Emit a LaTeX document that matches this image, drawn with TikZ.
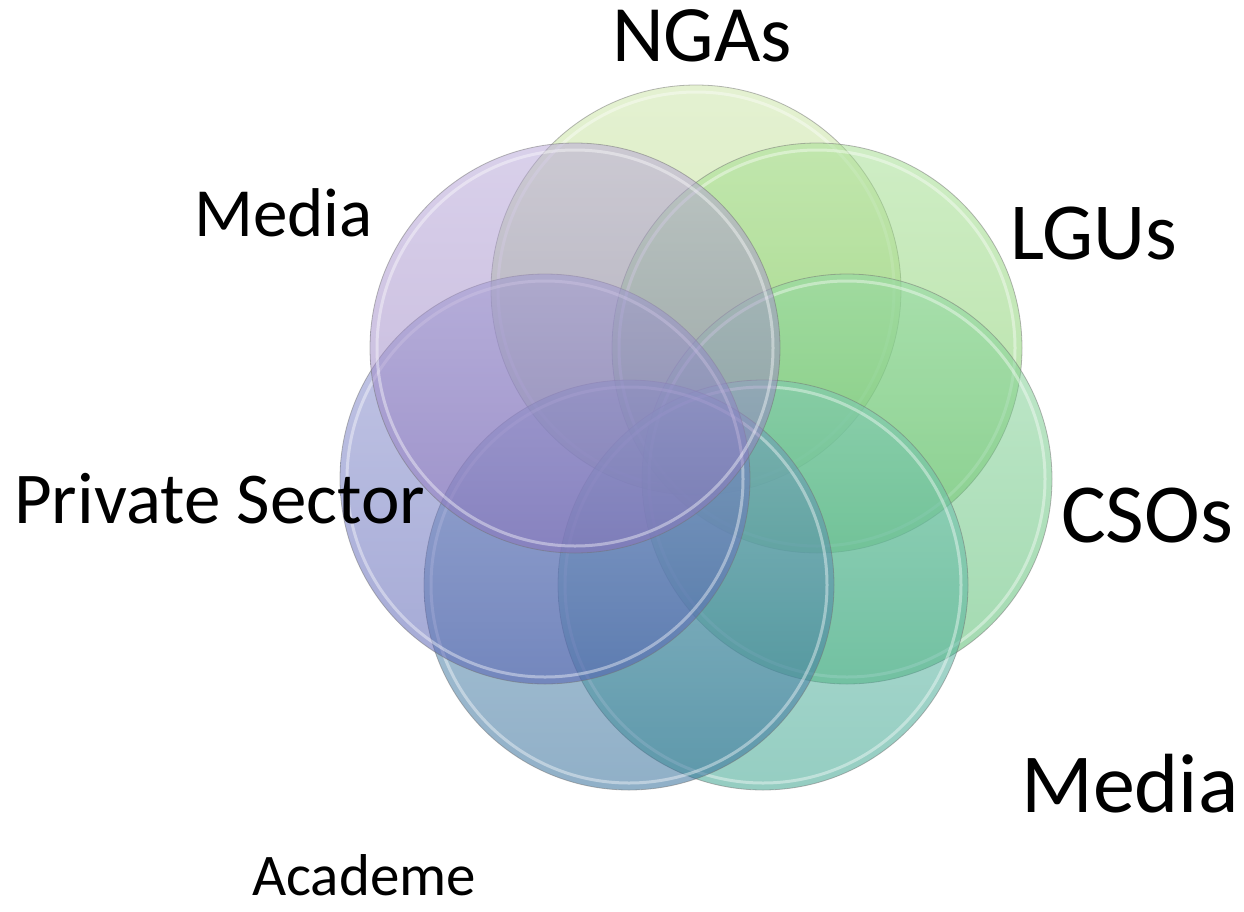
\documentclass[tikz,border=0pt]{standalone}
\usepackage{fontspec}
\setmainfont{Carlito}
\definecolor{cN}{RGB}{177,217,121}
\definecolor{cL}{RGB}{115,205,85}
\definecolor{cC}{RGB}{81,193,109}
\definecolor{cBR}{RGB}{55,169,145}
\definecolor{cBL}{RGB}{45,109,157}
\definecolor{cPS}{RGB}{85,95,185}
\definecolor{cM}{RGB}{145,119,195}
\begin{document}
\begin{tikzpicture}[x=1pt,y=-1pt,
  circ/.style={circle, minimum size=410pt, inner sep=0pt, draw=black!55, line width=0.8pt,
    draw opacity=0.5, fill opacity=0.52, top color=#1!65!white, bottom color=#1!95!black},
  rim/.style={white, line width=3pt, opacity=0.4},
  lab/.style={anchor=base west, inner sep=0pt, text=black}]
\useasboundingbox (0,0) rectangle (1244,911);
\fill[white] (0,0) rectangle (1244,911);
\node[circ=cN] (ngas) at (696,290) {};
\draw[rim] (ngas.center) circle (198);
\node[circ=cL] (lgus) at (817,348) {};
\draw[rim] (lgus.center) circle (198);
\node[circ=cC] (csos) at (847,479) {};
\draw[rim] (csos.center) circle (198);
\node[circ=cBR] (br) at (763,585) {};
\draw[rim] (br.center) circle (198);
\node[circ=cBL] (bl) at (629,585) {};
\draw[rim] (bl.center) circle (198);
\node[circ=cPS] (ps) at (545,479) {};
\draw[rim] (ps.center) circle (198);
\node[circ=cM] (media) at (575,348) {};
\draw[rim] (media.center) circle (198);
\node[lab, font=\fontsize{80}{84}\selectfont] (tNGAs) at (612,61) {NGAs};
\node[lab, font=\fontsize{69}{72}\selectfont] (tMedia1) at (194,236) {Media};
\node[lab, font=\fontsize{81}{84}\selectfont] (tLGUs) at (1010,259) {LGUs};
\node[lab, font=\fontsize{73}{76}\selectfont] (tPS) at (14,523) {Private Sector};
\node[lab, font=\fontsize{84}{88}\selectfont] (tCSOs) at (1061,542) {CSOs};
\node[lab, font=\fontsize{84}{90}\selectfont] (tMedia2) at (1021,812) {Media};
\node[lab, font=\fontsize{59}{64}\selectfont] (tAcad) at (252,895) {Academe};
\end{tikzpicture}
\end{document}
